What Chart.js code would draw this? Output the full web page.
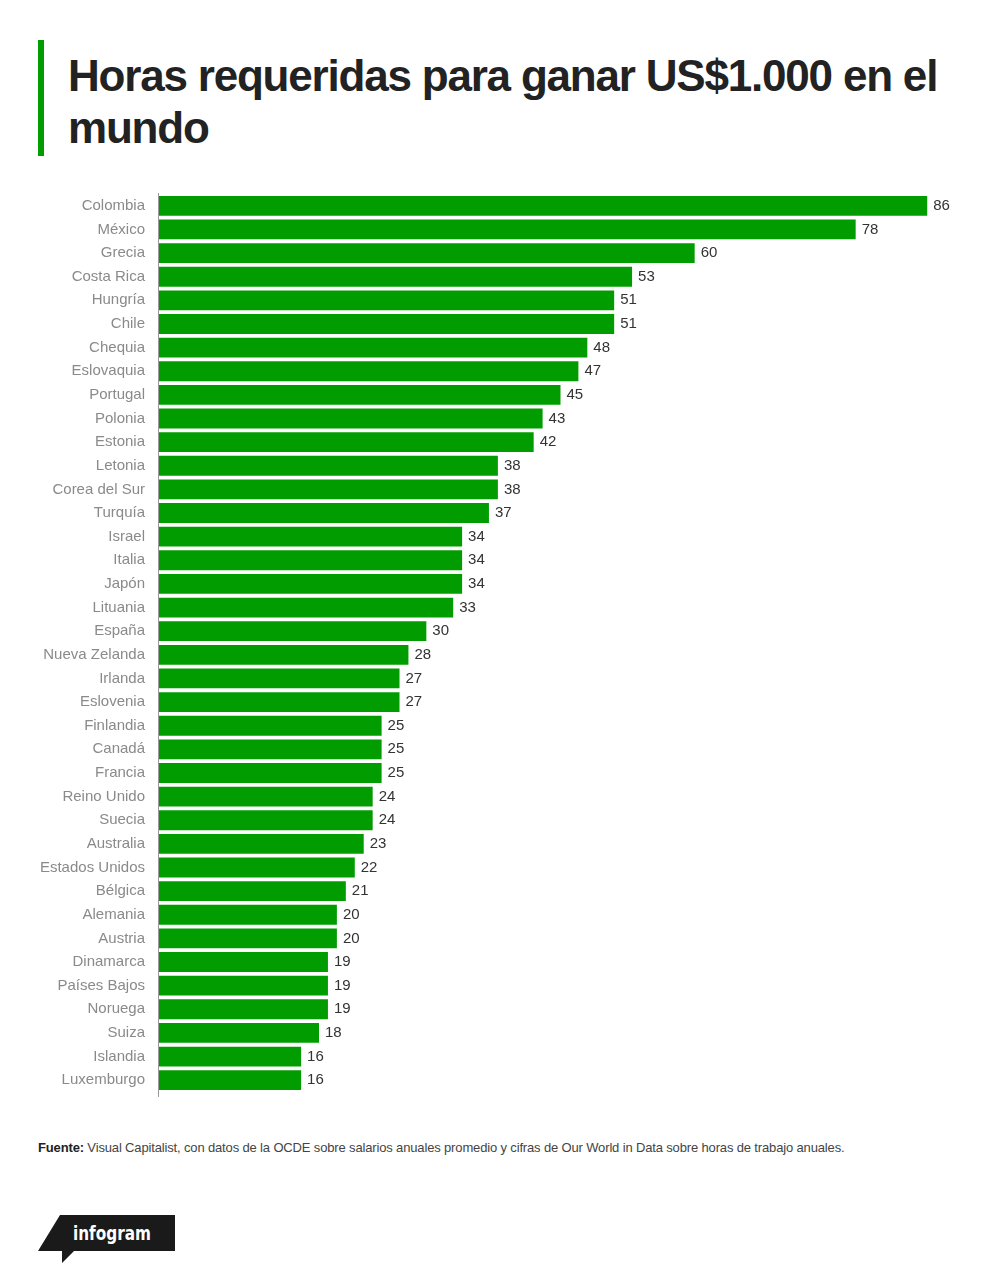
<!DOCTYPE html>
<html>
<head>
<meta charset="utf-8">
<script src="https://cdn.jsdelivr.net/npm/chart.js@4.4.1/dist/chart.umd.min.js"></script>
<style>
  html, body { margin: 0; padding: 0; background: #fff; }
  body { width: 1000px; height: 1285px; position: relative; overflow: hidden; font-family: "Liberation Sans", Arial, sans-serif; }
  .bar-accent { position: absolute; left: 38px; top: 40px; width: 6px; height: 116px; background: #009c00; }
  h1 { position: absolute; left: 68px; top: 50px; margin: 0; font-size: 44px; line-height: 52px; font-weight: bold; color: #222; letter-spacing: -1.2px; width: 900px; }
  #wrap { position: absolute; left: 0; top: 180px; width: 1000px; height: 930px; }
  .source { position: absolute; left: 38px; top: 1140px; font-size: 13px; color: #444; letter-spacing: -0.15px; white-space: nowrap; }
  .source b { color: #222; }
  .logo { position: absolute; left: 0; top: 1200px; }
</style>
</head>
<body>
<div class="bar-accent"></div>
<h1>Horas requeridas para ganar US$1.000 en el mundo</h1>
<div id="wrap"><canvas id="chart"></canvas></div>
<div class="source"><b>Fuente:</b> Visual Capitalist, con datos de la OCDE sobre salarios anuales promedio y cifras de Our World in Data sobre horas de trabajo anuales.</div>
<svg class="logo" width="200" height="80" viewBox="0 1200 200 80">
  <polygon points="38,1251 60,1215 175,1215 175,1251 74,1251 62,1263 62,1251" fill="#1a1a1a"/>
  <text x="73" y="1240" fill="#fff" font-family="DejaVu Sans Condensed, DejaVu Sans" font-weight="bold" font-size="20" textLength="78" lengthAdjust="spacingAndGlyphs">infogram</text>
</svg>
<script>
const countries = ['Colombia', 'México', 'Grecia', 'Costa Rica', 'Hungría', 'Chile', 'Chequia', 'Eslovaquia', 'Portugal', 'Polonia', 'Estonia', 'Letonia', 'Corea del Sur', 'Turquía', 'Israel', 'Italia', 'Japón', 'Lituania', 'España', 'Nueva Zelanda', 'Irlanda', 'Eslovenia', 'Finlandia', 'Canadá', 'Francia', 'Reino Unido', 'Suecia', 'Australia', 'Estados Unidos', 'Bélgica', 'Alemania', 'Austria', 'Dinamarca', 'Países Bajos', 'Noruega', 'Suiza', 'Islandia', 'Luxemburgo'];
const hours = [86, 78, 60, 53, 51, 51, 48, 47, 45, 43, 42, 38, 38, 37, 34, 34, 34, 33, 30, 28, 27, 27, 25, 25, 25, 24, 24, 23, 22, 21, 20, 20, 19, 19, 19, 18, 16, 16];

const GREEN = '#009c00';

// value labels at the end of each bar, plus the axis line that runs a bit past the bars
const barLabels = {
    id: 'barLabels',
    afterDatasetsDraw(chart) {
        const { ctx, chartArea } = chart;
        const x0 = chart.scales.x.getPixelForValue(0);
        ctx.save();
        ctx.strokeStyle = '#999';
        ctx.lineWidth = 1;
        ctx.beginPath();
        ctx.moveTo(x0 + 0.5, chartArea.top - 1);
        ctx.lineTo(x0 + 0.5, chartArea.bottom + 5);
        ctx.stroke();

        ctx.fillStyle = '#333';
        ctx.font = '15px "Liberation Sans", Arial, sans-serif';
        ctx.textBaseline = 'middle';
        chart.getDatasetMeta(0).data.forEach((bar, i) => {
            ctx.fillText(hours[i], bar.x + 6, bar.y);
        });
        ctx.restore();
    }
};

new Chart(document.getElementById('chart'), {
    type: 'bar',
    data: {
        labels: countries,
        datasets: [{ data: hours, backgroundColor: GREEN, borderWidth: 0, categoryPercentage: 1, barPercentage: 0.84 }]
    },
    options: {
        indexAxis: 'y',
        responsive: true, maintainAspectRatio: false,
        animation: false,
        layout: { padding: { top: 8, bottom: 18, left: 0, right: 37 } },
        plugins: { legend: { display: false }, tooltip: { enabled: false } },
        scales: {
            x: { display: false, min: 0, max: 90 },
            y: {
                afterFit: s => { s.width = 158; },
                grid: { display: false },
                border: { display: false },
                ticks: { color: '#8a8a8a', padding: 5, autoSkip: false, font: { size: 15, family: '"Liberation Sans", Arial, sans-serif' } }
            }
        }
    },
    plugins: [barLabels]
});
</script>
</body>
</html>
